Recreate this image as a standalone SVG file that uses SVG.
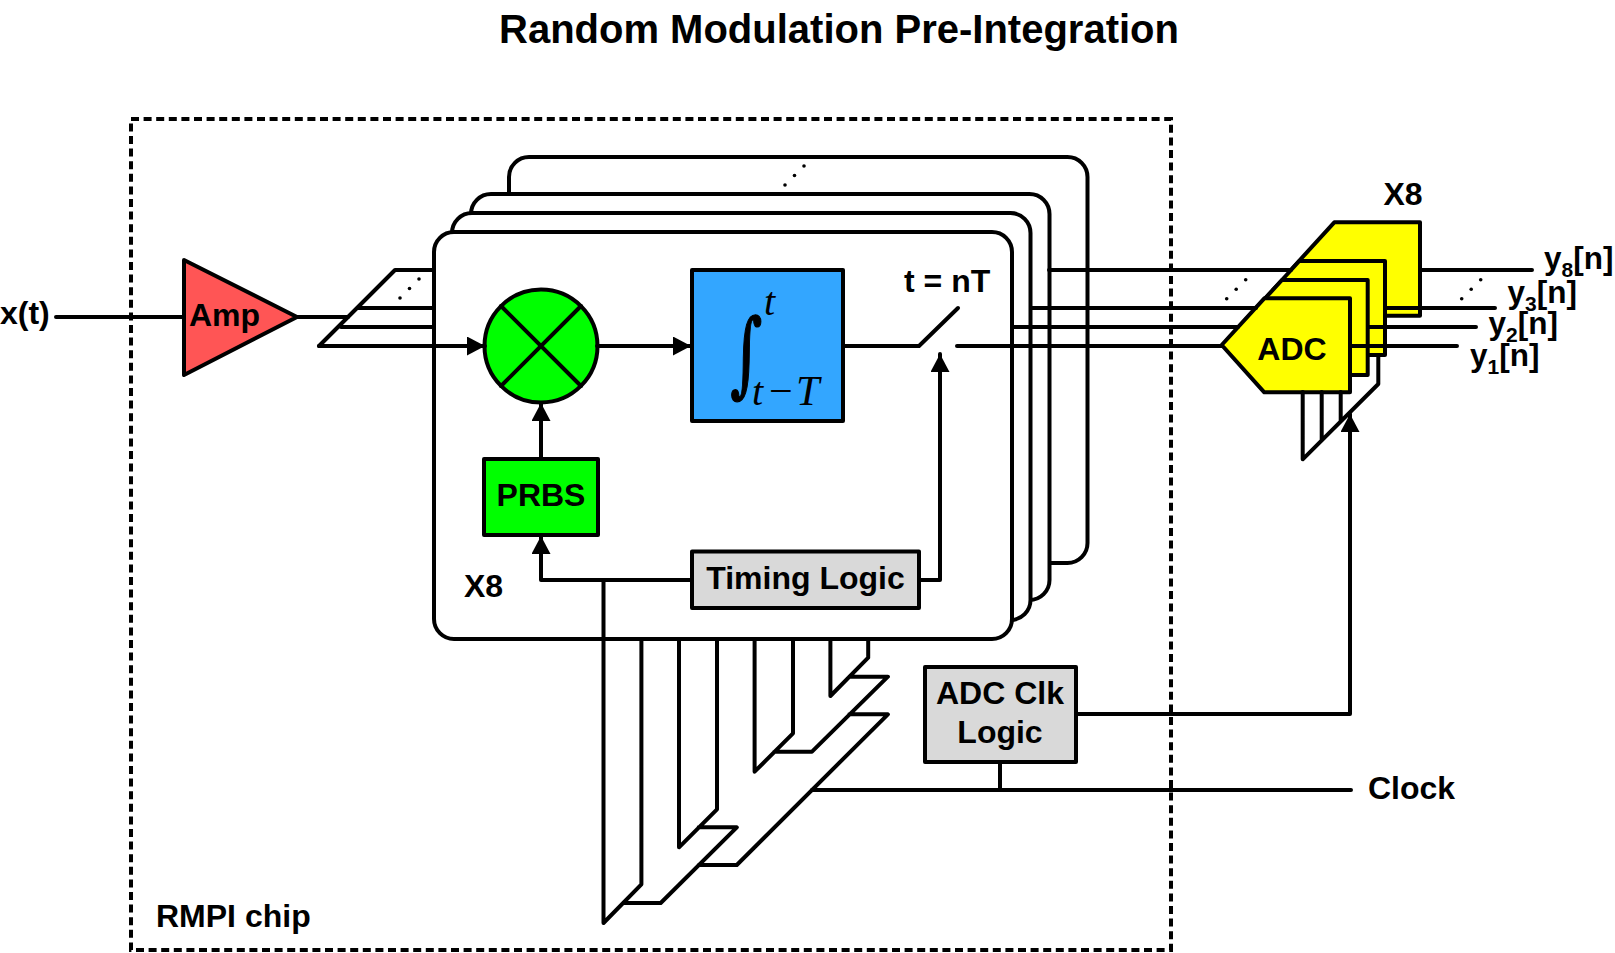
<svg xmlns="http://www.w3.org/2000/svg" width="1615" height="953" viewBox="0 0 1615 953">
<style>
text{font-family:"Liberation Sans",Arial,sans-serif;font-weight:700;fill:#000;font-size:32px}
.c{text-anchor:middle}
.s{fill:none;stroke:#000;stroke-width:4;stroke-linecap:round;stroke-linejoin:round}
.n{stroke:#000;stroke-width:4;stroke-linejoin:round}
.b{fill:#fff;stroke:#000;stroke-width:4}
.m{font-family:"Liberation Serif",serif;font-style:italic;font-weight:400;font-size:42px}
.i{font-family:"DejaVu Serif",serif;font-weight:400;font-size:100px;stroke:#000;stroke-width:1.5}
.y{font-size:31.5px}
.u{font-size:21px}
</style>
<defs>
<marker id="a" markerUnits="userSpaceOnUse" markerWidth="20" markerHeight="20" refX="18" refY="9.5" orient="auto"><path d="M0 0L18 9.5L0 19Z" fill="#000"/></marker>
<g id="dots"><circle cx="0" cy="0" r="1.8"/><circle cx="9.5" cy="-9.5" r="1.8"/><circle cx="19" cy="-19" r="1.8"/></g>
</defs>
<rect width="1615" height="953" fill="#fff"/>
<text class="c" x="839" y="43" style="font-size:40px">Random Modulation Pre-Integration</text>
<g id="chip"><rect x="131" y="119" width="1040" height="831" fill="none" stroke="#000" stroke-width="4" stroke-dasharray="8 4.6"/><text x="156" y="927">RMPI chip</text></g>
<g id="board4"><rect class="b" x="509" y="157" width="578.5" height="406" rx="20"/><use href="#dots" x="785" y="185"/></g>
<g id="board3"><rect class="b" x="471" y="194" width="578.5" height="406" rx="20"/></g>
<g id="board2"><rect class="b" x="452" y="213" width="578.5" height="407" rx="20"/></g>
<g id="board1"><rect class="b" x="434" y="232" width="578" height="407" rx="20"/><text x="464" y="597">X8</text></g>
<g id="input"><text x="0" y="324">x(t)</text></g>
<g id="amp"><path class="n" d="M184 260L297 317L184 375Z" fill="#FF5555"/><text x="189" y="326">Amp</text></g>
<g id="mixer"><circle class="n" cx="541" cy="346" r="56.5" fill="#00FF00"/><path class="s" d="M501 306L581 386M581 306L501 386"/></g>
<g id="integrator"><rect class="n" x="692" y="270" width="151" height="151" fill="#33A6FF"/>
<text class="i" transform="translate(730 385) scale(.62 .93)">∫</text>
<text class="m" x="764" y="315" style="font-size:40px">t</text><text class="m" x="752" y="405" style="font-size:40px">t</text><text class="m" x="769" y="405" style="font-style:normal">−</text><text class="m" x="796" y="405">T</text></g>
<g id="prbs"><rect class="n" x="484" y="459" width="114" height="76" fill="#00FF00"/><text class="c" x="541" y="506">PRBS</text></g>
<g id="timing"><rect class="n" x="692" y="551.5" width="227" height="56.5" fill="#D9D9D9"/><text class="c" x="805.5" y="589">Timing Logic</text></g>
<g id="switch"><text x="904" y="292">t = nT</text></g>
<g id="adcclk"><rect class="n" x="925" y="667" width="151" height="95" fill="#D9D9D9"/><text class="c" x="1000" y="704">ADC Clk</text><text class="c" x="1000" y="743">Logic</text></g>
<g id="adc8"><path class="n" d="M1291.7 269L1334.3 222.3H1420V315.7H1334.3Z" fill="#FFFF00"/></g>
<g id="adc3"><path class="n" d="M1256.7 307.7L1299.3 261H1385V355H1299.3Z" fill="#FFFF00"/></g>
<g id="adc2"><path class="n" d="M1239.4 326.4L1282 280H1367.7V375H1282Z" fill="#FFFF00"/></g>
<g id="adc1"><path class="n" d="M1221.7 345L1264.3 298.3H1350V392.3H1264.3Z" fill="#FFFF00"/><text class="c" x="1292" y="360">ADC</text></g>
<g id="labels">
<text x="1383.5" y="205">X8</text>
<text class="y" x="1544" y="269">y<tspan dy="8" class="u">8</tspan><tspan dy="-8">[n]</tspan></text>
<text class="y" x="1507.5" y="303">y<tspan dy="8" class="u">3</tspan><tspan dy="-8">[n]</tspan></text>
<text class="y" x="1488.5" y="334">y<tspan dy="8" class="u">2</tspan><tspan dy="-8">[n]</tspan></text>
<text class="y" x="1470" y="366">y<tspan dy="8" class="u">1</tspan><tspan dy="-8">[n]</tspan></text>
<text x="1368" y="799">Clock</text>
</g>
<g id="connectors">
<path class="s" d="M56 317H184M297 317H348"/>
<path class="s" d="M319 346L395 270H434M358 308H434M341 327H434"/>
<path class="s" marker-end="url(#a)" d="M319 346H485"/>
<path class="s" d="M597 346H691" marker-end="url(#a)"/>
<path class="s" marker-end="url(#a)" d="M541 459V403"/>
<path class="s" d="M843 346H919L958 308"/>
<path class="s" d="M957 346H1222"/>
<path class="s" marker-end="url(#a)" d="M919 580H940V354"/>
<path class="s" marker-end="url(#a)" d="M692 580H541V536"/>
<path class="s" d="M603.5 580V923L641.4 884.3V639M623.6 903H660.7L736.8 827.3H698.6M679 639V847.3L717 809.3V639M698.6 865H736.8L887.9 714.3H849.3M754.6 639V771.7L793 733.3V639M774.3 751.7H812L887.9 676.7H850M830.4 639V696L868.2 657.7V639"/>
<path class="s" d="M812 790H1351M1000 762V790"/>
<path class="s" marker-end="url(#a)" d="M1076 714H1350V414"/>
<path class="s" d="M1049 270H1291M1031 308H1256M1012 327H1238"/>
<path class="s" d="M1420 270H1532M1385 308H1495M1368 327H1476M1350 346H1457"/>
<path class="s" d="M1302.7 392V459.3L1378.3 384V355M1321.7 392V440M1340.7 392V421"/>
</g>
<use href="#dots" x="400" y="298"/>
<use href="#dots" x="1226.7" y="298.7"/>
<use href="#dots" x="1461.7" y="298.7"/>
</svg>
